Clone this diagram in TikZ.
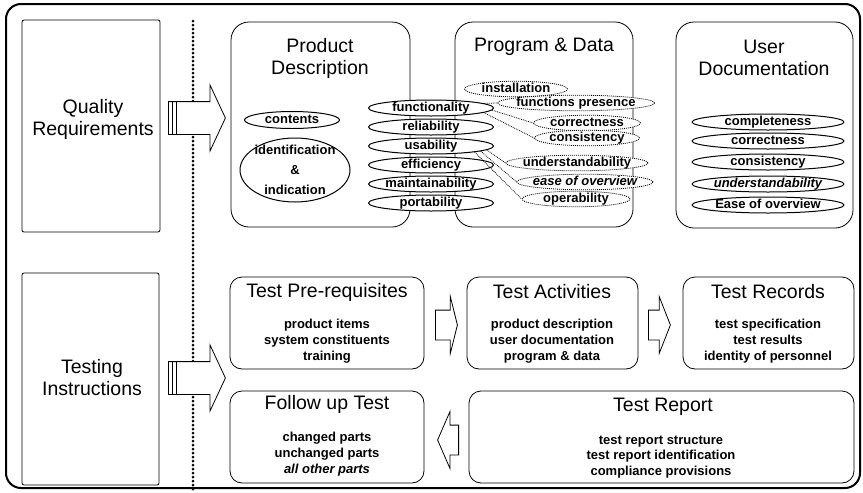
\documentclass[tikz,border=0pt]{standalone}
\usepackage{fontspec}
\setmainfont{Liberation Sans}
\usetikzlibrary{shapes.geometric, shapes.arrows}

\tikzset{
  box/.style={draw, black, line width=0.8pt, rounded corners=18pt, inner sep=0pt},
  sbox/.style={draw, black, line width=0.8pt, rounded corners=12pt, inner sep=0pt, minimum height=92pt},
  side/.style={draw, black, line width=0.8pt, rounded corners=2pt, inner sep=0pt, minimum width=138pt, minimum height=212pt},
  hdr/.style={inner sep=0pt, align=center, font=\fontsize{19.5}{22}\selectfont},
  itm/.style={inner sep=0pt, align=center, font=\fontsize{13}{16}\selectfont\bfseries},
  prop/.style={draw, ellipse, fill=white, line width=1pt, inner xsep=-4pt, inner ysep=0pt, text height=9pt, text depth=2pt, minimum height=16pt, font=\fontsize{13}{15}\selectfont\bfseries},
  sub/.style={prop, densely dotted, line width=0.8pt, minimum height=13pt},
  link/.style={densely dotted, line width=0.8pt},
  bigarrow/.style={draw, single arrow, fill=white, line width=0.8pt, anchor=tail, inner xsep=0pt, inner ysep=16pt, minimum height=57pt, single arrow head extend=16.5pt, single arrow tip angle=130},
  smallarrow/.style={draw, single arrow, fill=white, line width=0.8pt, anchor=tail, inner xsep=0pt, inner ysep=14.5pt, minimum height=22pt, single arrow head extend=13.5pt, single arrow tip angle=152}
}

\begin{document}
\begin{tikzpicture}[x=1pt, y=-1pt]
\useasboundingbox (0,0) rectangle (863,493);
\draw[line width=2pt, rounded corners=15pt] (6,4) rectangle (860,488);
\draw[line width=3pt, dash pattern=on 0pt off 4pt, line cap=round] (193,21) -- (193,491);

% left column
\node[side] (qr) at (91,126) {};
\node[hdr] (qrT) at (93,119) {Quality\\Requirements};
\node[side, minimum width=137pt] (ti) at (90.5,379) {};
\node[hdr] (tiT) at (92,378) {Testing\\Instructions};
\node[bigarrow] (a1) at (168,118) {};
\node[bigarrow] (a2) at (168,378) {};
\draw[line width=0.6pt] ([xshift=4pt]a1.before tail) -- ([xshift=4pt]a1.after tail);
\draw[line width=0.6pt] ([xshift=8pt]a1.before tail) -- ([xshift=8pt]a1.after tail);
\draw[line width=0.6pt] ([xshift=4pt]a2.before tail) -- ([xshift=4pt]a2.after tail);
\draw[line width=0.6pt] ([xshift=8pt]a2.before tail) -- ([xshift=8pt]a2.after tail);

% quality requirements
\node[box, minimum width=179pt, minimum height=205pt] (pd) at (320.5,124.5) {};
\node[hdr] (pdT) at (320,58) {Product\\Description};
\node[box, minimum width=178pt, minimum height=205pt] (pg) at (544,124.5) {};
\node[hdr] (pgT) at (544,47) {Program \& Data};
\node[box, minimum width=177pt, minimum height=206pt] (ud) at (764.5,125) {};
\node[hdr] (udT) at (764,58) {User\\Documentation};

\node[prop, minimum width=95pt, minimum height=17pt] (cnt) at (292,120) {contents};
\node[draw, ellipse, fill=white, line width=1pt, inner xsep=-4pt, inner ysep=-10pt, minimum width=110pt, minimum height=64pt, align=center, font=\fontsize{13}{20}\selectfont\bfseries] (idn) at (295,170) {identification\\\&\\indication};

\node[prop, minimum width=125pt] (f1) at (431,108) {functionality};
\node[prop, minimum width=125pt] (f2) at (431,127) {reliability};
\node[prop, minimum width=125pt] (f3) at (431,146) {usability};
\node[prop, minimum width=125pt] (f4) at (431,165) {efficiency};
\node[prop, minimum width=125pt] (f5) at (431,184) {maintainability};
\node[prop, minimum width=125pt] (f6) at (431,203) {portability};

\node[sub, minimum width=103pt] (p1) at (516,89) {installation};
\node[sub, minimum width=152pt] (p2) at (576,103) {functions presence};
\node[sub, minimum width=107pt] (p3) at (587,123) {correctness};
\node[sub, minimum width=105pt] (p4) at (587,138) {consistency};
\node[sub, minimum width=137pt] (p5) at (577,163) {understandability};
\node[sub, minimum width=136pt] (p6) at (585,182) {\itshape ease of overview};
\node[sub, minimum width=108pt] (p7) at (576,199) {operability};
\draw[link] (f1.5) -- (p2.west);
\draw[link] (f1.-2) -- (p3.west);
\draw[link] (f1.-5) -- (p4.west);
\draw[link] (f3.-4) -- (p5.west);
\draw[link] (f3.-6) -- (p6.west);
\draw[link] (f3.-8) -- (p7.west);

\node[prop, minimum width=152pt] (u1) at (768,122) {completeness};
\node[prop, minimum width=152pt] (u2) at (768,141) {correctness};
\node[prop, minimum width=152pt] (u3) at (768,162) {consistency};
\node[prop, minimum width=152pt] (u4) at (768,184) {\itshape understandability};
\node[prop, minimum width=152pt] (u5) at (768,205) {Ease of overview};

% testing instructions
\node[sbox, minimum width=194pt] (pre) at (327,323) {};
\node[hdr] (preT) at (327,292) {Test Pre-requisites};
\node[itm] (preB) at (327,341) {product items\\system constituents\\training};
\node[sbox, minimum width=171pt] (act) at (552.5,323) {};
\node[hdr] (actT) at (552,292) {Test Activities};
\node[itm] (actB) at (552,341) {product description\\user documentation\\program \& data};
\node[sbox, minimum width=171pt] (rec) at (768.5,323) {};
\node[hdr] (recT) at (768,292) {Test Records};
\node[itm] (recB) at (768,341) {test specification\\test results\\identity of personnel};
\node[sbox, minimum width=194pt] (fol) at (327,437) {};
\node[hdr] (folT) at (327,404) {Follow up Test};
\node[itm] (folB) at (327,454) {changed parts\\unchanged parts\\\textit{all other parts}};
\node[sbox, minimum width=385pt] (rep) at (661.5,437) {};
\node[hdr] (repT) at (663,407) {Test Report};
\node[itm, font=\fontsize{13}{15.5}\selectfont\bfseries] (repB) at (661,457) {test report structure\\test report identification\\compliance provisions};

\node[smallarrow] (a3) at (435,325) {};
\node[smallarrow, single arrow tip angle=137] (a4) at (648,325) {};
\node[smallarrow, shape border rotate=180, single arrow tip angle=133, minimum height=21pt] (a5) at (459,440) {};
\end{tikzpicture}
\end{document}
